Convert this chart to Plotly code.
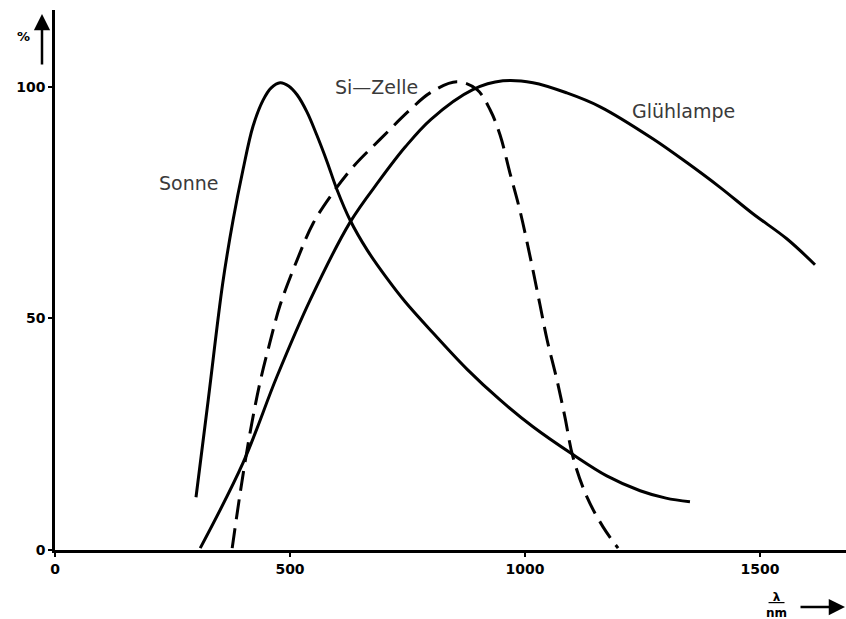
import plotly.graph_objects as go

# Sonne (sun)
sonne_x = [300, 326, 357, 379, 400, 421, 443, 460, 479, 497, 515, 536, 557, 579, 600, 628, 664, 706, 745,
           804, 877, 947, 1017, 1102, 1174, 1245, 1300, 1351]
sonne_y = [11.4, 32.4, 57.7, 71.3, 82.1, 91.4, 97.2, 99.8, 100.9, 100.2, 98.3, 94.6, 89.6, 83.8, 77.8, 71.2, 64.8,
           58.7, 53.6, 46.9, 39.0, 32.4, 26.6, 20.6, 16.0, 12.8, 11.2, 10.4]

# Glühlampe (incandescent lamp)
lampe_x = [309, 400, 472, 543, 628, 691, 745, 800, 889, 953, 1017, 1089, 1160, 1272, 1345, 1415,
           1485, 1557, 1617]
lampe_y = [0.4, 18.8, 37.4, 54.0, 70.8, 79.9, 87.0, 93.0, 99.4, 101.3, 100.9, 98.7, 95.7, 88.8,
           83.6, 78.3, 72.6, 67.2, 61.6]

# Si-Zelle (silicon cell), dashed
si_x = [377, 394, 415, 436, 457, 479, 515, 549, 591, 634, 691, 755, 798, 855, 898, 926, 947, 968,
        989, 1011, 1032, 1047, 1068, 1085, 1102, 1132, 1166, 1198]
si_y = [0.4, 12.3, 25.3, 36.1, 44.7, 52.9, 62.6, 70.5, 77.1, 82.7, 88.6, 95.0, 98.7, 101.1, 99.4,
        95.0, 89.6, 81.4, 73.4, 63.3, 52.9, 45.4, 36.7, 28.7, 20.1, 11.4, 5.0, 0.4]

x_ticks = [0, 500, 1000, 1500]
y_ticks = [0, 50, 100]

labels = ["Sonne", "Si\u2014Zelle", "Glühlampe"]
label_x = [283, 683, 1338]
label_y = [79.3, 100.0, 94.8]

# full-window figure (page body margin removed below)
W, H = 846, 619
L, T, B = 55, 10, 69
PW, PH = W - L, H - T - B


def px(xp):
    return (xp - L) / PW


def py(yp):
    return (H - B - yp) / PH


fig = go.Figure()
fig.add_trace(go.Scatter(x=sonne_x, y=sonne_y, mode="lines", line=dict(color="black", width=3, shape="spline", smoothing=1.0)))
fig.add_trace(go.Scatter(x=lampe_x, y=lampe_y, mode="lines", line=dict(color="black", width=3, shape="spline", smoothing=1.0)))
fig.add_trace(go.Scatter(x=si_x, y=si_y, mode="lines", line=dict(color="black", width=3, dash="20px,9px", shape="spline", smoothing=1.0)))

for t, lx, ly in zip(labels, label_x, label_y):
    fig.add_annotation(x=lx, y=ly, text=t, showarrow=False, xanchor="center", yanchor="middle",
                       font=dict(family="DejaVu Sans", size=19, color="#3a3a3a"))

# y axis arrow and %
fig.add_annotation(xref="paper", yref="paper", x=px(42), y=py(14), ax=0, ay=52, text="",
                   showarrow=True, arrowhead=2, arrowsize=1.3, arrowwidth=2.5, arrowcolor="black")
fig.add_annotation(xref="paper", yref="paper", x=px(23), y=py(36), text="<b>%</b>", showarrow=False,
                   xanchor="center", yanchor="middle", font=dict(family="DejaVu Sans", size=13, color="black"))
# x axis label and arrow
fig.add_annotation(xref="paper", yref="paper", x=px(845), y=py(607), ax=-46, ay=0, text="",
                   showarrow=True, arrowhead=2, arrowsize=1.3, arrowwidth=2.5, arrowcolor="black")
fig.add_annotation(xref="paper", yref="paper", x=px(776), y=py(605), text="<b><u>&nbsp;λ&nbsp;</u></b><br><b>nm</b>",
                   showarrow=False, xanchor="center", yanchor="middle",
                   font=dict(family="DejaVu Sans", size=12, color="black"))

fig.update_layout(
    width=W, height=H,
    margin=dict(l=L, r=0, t=T, b=B),
    paper_bgcolor="white", plot_bgcolor="white",
    showlegend=False,
    hovermode=False,
    xaxis=dict(range=[0, 1683], tickvals=x_ticks, ticktext=[f"<b>{v}</b>" for v in x_ticks],
               showgrid=False, zeroline=False, showline=True, linecolor="black", linewidth=2.5,
               ticks="outside", ticklen=4, tickwidth=2, tickcolor="black",
               tickfont=dict(family="DejaVu Sans", size=14, color="black")),
    yaxis=dict(range=[0, 116.6], tickvals=y_ticks, ticktext=[f"<b>{v}</b>" for v in y_ticks],
               showgrid=False, zeroline=False, showline=True, linecolor="black", linewidth=2.5,
               ticks="outside", ticklen=4, tickwidth=2, tickcolor="black",
               tickfont=dict(family="DejaVu Sans", size=14, color="black")),
)

fig.write_html("out.html", config={"displayModeBar": False},
               post_script="document.body.style.margin='0';document.body.style.overflow='hidden';")
